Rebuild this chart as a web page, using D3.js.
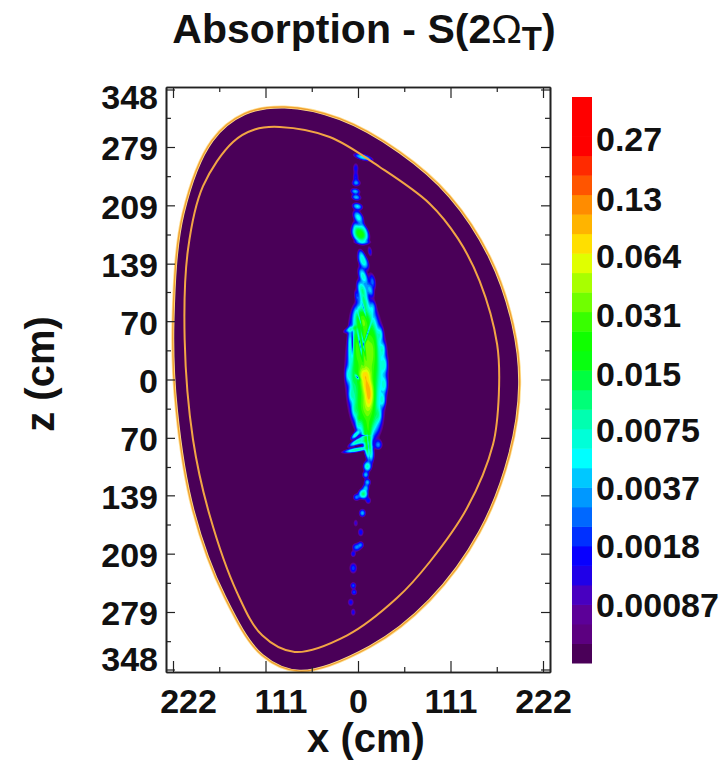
<!DOCTYPE html>
<html>
<head>
<meta charset="utf-8">
<script src="https://cdn.jsdelivr.net/npm/d3@7"></script>
<style>
  html, body { margin: 0; padding: 0; background: #fff; }
  svg { display: block; }
  text { font-family: "Liberation Sans", Arial, sans-serif; font-weight: bold; fill: #111; }
</style>
</head>
<body>
<svg id="graph" width="728" height="764"></svg>
<script>
var w = 728;
var h = 764;

var xTicks = [-222, -111, 0, 111, 222];
var xMinorTicks = [-166.5, -55.5, 55.5, 166.5];
var zTicks = [-348, -279, -209, -139, -70, 0, 70, 139, 209, 279, 348];
var zMinorTicks = [-314, -244, -174, -105, -35, 35, 105, 174, 244, 314];
var barLabels = [0.27, 0.13, 0.064, 0.031, 0.015, 0.0075, 0.0037, 0.0018, 0.00087];

// colour bands, bottom of the bar to the top
var bandColors = ["#4a0058", "#5c0080", "#5c0098", "#4800c0", "#2000e8", "#0800ff", "#0030ff", "#0068ff",
                  "#0098ff", "#00c8ff", "#00ffff", "#00ffd8", "#00ffb0", "#00ff78", "#00ff40", "#08ff10",
                  "#10ff00", "#38ff00", "#70ff00", "#a8ff00", "#e0ff00", "#ffdf00", "#ffb400", "#ff8c00",
                  "#ff5500", "#ff2a00", "#ff0000", "#ff0000", "#ff0000"];

// plasma edge, [x, z] in cm
var outerEdge = [[-88,327],[-22,313],[50,273],[110,220],[158,147],[186,66],[194,-6],[182,-90],[146,-183],[86,-265],
                 [14,-321],[-70,-350],[-115,-331],[-160,-261],[-198,-157],[-218,-36],[-222,72],[-210,199],[-175,287],[-136,319]];
var innerEdge = [[-94,303],[-34,291],[26,255],[86,211],[120,169],[146,118],[167,42],[169,-18],[162,-78],[131,-154],
                 [86,-219],[47,-262],[-13,-307],[-76,-327],[-115,-307],[-145,-256],[-178,-163],[-198,-72],[-208,48],
                 [-204,156],[-186,232],[-150,285],[-124,300]];

// absorption spots: [x, z, width, height, tilt deg, peak]
var upperSpots = [[6,267,6,1.8,15,0.006],[-3,254,2.2,4,0,0.0016],[-3,243,2.2,4,0,0.0018],[-2.4,236,3,2.2,0,0.003],
                  [-3.6,226,3.2,2,10,0.004],[-2.4,219,3.2,2,10,0.004],[-1,208,3.4,2.2,15,0.005],
                  [0,195,2.8,4.6,-30,0.006],[-3,183,1.8,4,-20,0.002],[6,183,1.8,5,-25,0.002],[2.4,175,4,5.5,-30,0.024],
                  [5,165,6,1.2,0,0.002],[4,150,2,4,-20,0.003],[14,154,1.8,4,-10,0.0016],[6,142,2.8,5.5,-25,0.007],
                  [6,124,2.6,6,-20,0.007],[17,118,2.4,6,-10,0.0026],[5,108,2.8,6,-20,0.009],[14,108,2.2,5,-20,0.004],
                  [7,94,2.8,7,-15,0.009],[-2,100,1.6,5,-10,0.0018],[17,86,2.2,5,0,0.003]];
var coreSpots = [[5,72,5,8,-10,0.022],[-5,62,6,1.7,-20,0.008],[-10,40,1.4,14,0,0.004],[-2,40,2.5,15,0,0.012],
                 [8,45,7,20,0,0.025],[18,38,3,16,0,0.012],[26,54,2,5,0,0.005],[29,36,2,5,0,0.005],[31,18,2,6,0,0.005],
                 [31,-6,2,6,0,0.005],[29,-24,2,5,0,0.005],[24,-42,2,5,0,0.005],[-12,6,2,6,0,0.004],[-8,-18,2,5,0,0.004],
                 [-4,-36,2,5,0,0.004],[0,-54,1.6,4,0,0.004],[10,10,9.5,26,0,0.03],[-6,5,2.2,12,0,0.006],
                 [11,-8,3.8,9,-10,0.06],[13,-22,3,8,0,0.045],[8,6,4,5,0,0.035],[10,-36,7,14,-8,0.03],[11,-62,3,9,0,0.02],
                 [1,-46,1.8,2.8,0,0.006]];
var lowerSpots = [[-3,-66,1.5,4,45,0.007],[-1,-74,1.5,6,60,0.009],[-2,-84,1.3,8,80,0.01],[6,-74,1.3,5,70,0.006],
                  [12,-80,2.2,8,-5,0.018],[24,-78,2.8,3.4,0,0.003],[16,-90,2,6,0,0.003],[11,-104,2.5,3.2,0,0.008],
                  [9,-114,2.2,2.4,0,0.004],[11,-123,2.2,2.4,0,0.004],[9,-130,2.2,2.6,0,0.004],[6,-137,2.8,3,0,0.011],
                  [-2,-141,2.4,2.4,0,0.003],[12,-145,2.2,2.6,0,0.0018],[5,-160,2.2,2.6,0,0.004],[-3,-172,2,3.2,0,0.0012],
                  [3,-183,2.2,3.2,0,0.0018],[-2,-201,3,2.8,0,0.003],[3,-198,2.2,2.4,0,0.0026],[-6,-209,2,2.4,0,0.0018],
                  [-6,-226,2.8,4,0,0.0022],[-6,-247,2.2,2.4,0,0.0024],[-5,-255,2.2,2.2,0,0.0022],[-9,-267,2.4,3,0,0.0016],
                  [-6,-279,2,3,0,0.0015]];
// dark gaps between the fringes: [x, z, width, height, tilt deg, depth]
var gaps = [[-7,44,1,12,0,0.9],[2,43,1.2,15,-10,0.98],[6,44,1,12,-10,0.98],[11,55,1,12,18,0.97],[-1,3,1.3,3,-40,0.98],
            [12,-78,0.7,12,-6,0.97],[8,-67,4,0.7,0,0.9],[2,72,0.8,8,-15,0.85],[7,84,0.7,8,-15,0.8]];

var xScale = d3.scaleLinear().domain([-230.4, 230.4]).range([166, 550]);
var zScale = d3.scaleLinear().domain([-351, 351]).range([672, 87]);

var barTop = 97;
var barBottom = 663;
var barStep = (barBottom - barTop) / bandColors.length;
var barScale = d3.scaleLog().domain([0.00087, 0.27]).range([606, 140]);

var svg = d3.select("#graph");

// --- plasma body
var edgeLine = d3.line()
    .x(function(p) { return xScale(p[0]); })
    .y(function(p) { return zScale(p[1]); })
    .curve(d3.curveCatmullRomClosed.alpha(0.5));

svg.append("path").attr("d", edgeLine(outerEdge))
    .attr("fill", bandColors[0]).attr("stroke", "#ffdf90").attr("stroke-width", 3);
svg.append("path").attr("d", edgeLine(outerEdge))
    .attr("fill", "none").attr("stroke", "#f0a030").attr("stroke-width", 1.4);

// --- absorption field on a fine grid, then filled contours per colour band
var cell = 0.6;
var x0 = -45;
var z0 = 285;
var nx = 150;
var nz = 1000;
var spots = upperSpots.concat(coreSpots, lowerSpots);

function splat(p, fn) {
    var t = p[4] * Math.PI / 180;
    var c = Math.cos(t), s = Math.sin(t);
    var reach = Math.max(p[2], p[3]) * 4;
    var i0 = Math.max(0, Math.floor((p[0] - reach - x0) / cell));
    var i1 = Math.min(nx - 1, Math.ceil((p[0] + reach - x0) / cell));
    var j0 = Math.max(0, Math.floor((z0 - p[1] - reach) / cell));
    var j1 = Math.min(nz - 1, Math.ceil((z0 - p[1] + reach) / cell));
    for (var j = j0; j <= j1; j++) {
        for (var i = i0; i <= i1; i++) {
            var dx = x0 + i * cell - p[0];
            var dz = z0 - j * cell - p[1];
            var u = (dx * c - dz * s) / p[2];
            var v = (dx * s + dz * c) / p[3];
            fn(i + j * nx, Math.exp(-(u * u + v * v) / 2));
        }
    }
}

var field = new Float64Array(nx * nz);
spots.forEach(function(p) {
    splat(p, function(k, g) { field[k] += p[5] * g; });
});
gaps.forEach(function(p) {
    splat(p, function(k, g) { field[k] *= 1 - p[5] * g; });
});

var levels = d3.range(1, bandColors.length).map(function(k) {
    return barScale.invert(barBottom - k * barStep);
});

var contours = d3.contours().size([nx, nz]).thresholds(levels)(Array.from(field));
var gridPath = d3.geoPath(d3.geoTransform({
    point: function(i, j) {
        this.stream.point(xScale(x0 + i * cell), zScale(z0 - j * cell));
    }
}));

svg.append("g").selectAll("path")
    .data(contours)
    .enter()
    .append("path")
    .attr("d", gridPath)
    .attr("fill", function(d, i) { return bandColors[i + 1]; });

// inner flux surface goes over the field
svg.append("path").attr("d", edgeLine(innerEdge))
    .attr("fill", "none").attr("stroke", "#f2a545").attr("stroke-width", 2);

// --- frame and axes
function noLabel() { return ""; }

function styleAxis(g) {
    g.select(".domain").attr("stroke", "#222").attr("stroke-width", 1.6);
    g.selectAll(".tick line").attr("stroke", "#222").attr("stroke-width", 1.2);
}

function addAxis(maker, scale, values, size, translate, fmt) {
    var g = svg.append("g")
        .attr("transform", translate)
        .call(maker(scale).tickValues(values).tickSize(size).tickSizeOuter(0).tickFormat(fmt || noLabel));
    styleAxis(g);
    return g;
}

var bottom = "translate(0,672)", top_ = "translate(0,87)", left = "translate(166,0)", right = "translate(550,0)";

[[xTicks, -11], [xMinorTicks, -5]].forEach(function(t) {
    addAxis(d3.axisBottom, xScale, t[0], t[1], bottom);
    addAxis(d3.axisTop, xScale, t[0], t[1], top_);
});
[[zTicks, -9], [zMinorTicks, -5]].forEach(function(t) {
    addAxis(d3.axisLeft, zScale, t[0], t[1], left);
    addAxis(d3.axisRight, zScale, t[0], t[1], right);
});

// tick labels (the picture drops the minus sign but leaves the text pushed right)
var xLabelAxis = svg.append("g").attr("transform", bottom)
    .call(d3.axisBottom(xScale).tickValues(xTicks).tickSize(0).tickPadding(17).tickFormat(Math.abs));
xLabelAxis.select(".domain").remove();
xLabelAxis.selectAll("text")
    .style("font-size", "34px")
    .attr("dx", function(d) { return d < 0 ? 15 : 0; });

var zLabelAxis = svg.append("g").attr("transform", left)
    .call(d3.axisLeft(zScale).tickValues(zTicks).tickSize(0).tickPadding(8).tickFormat(Math.abs));
zLabelAxis.select(".domain").remove();
zLabelAxis.selectAll("text")
    .style("font-size", "34px")
    .attr("dy", function(d) { return d == 348 ? "0.55em" : d == -348 ? "0.03em" : "0.38em"; });

svg.append("text").attr("x", 366).attr("y", 752).attr("text-anchor", "middle")
    .style("font-size", "40px").text("x (cm)");
svg.append("text").attr("transform", "translate(54,374) rotate(-90)").attr("text-anchor", "middle")
    .style("font-size", "40px").text("z (cm)");

// title
var title = svg.append("text").attr("x", 364).attr("y", 43).attr("text-anchor", "middle").style("font-size", "41px");
title.append("tspan").text("Absorption - S(2");
title.append("tspan").style("font-weight", "normal").text("Ω");
title.append("tspan").attr("dy", 7).style("font-size", "33px").text("T");
title.append("tspan").attr("dy", -7).text(")");

// --- colour bar
svg.append("g").selectAll("rect")
    .data(bandColors)
    .enter()
    .append("rect")
    .attr("x", 572)
    .attr("width", 20)
    .attr("y", function(d, i) { return barBottom - (i + 1) * barStep; })
    .attr("height", barStep + 0.5)
    .attr("fill", function(d) { return d; });

var barAxis = svg.append("g").attr("transform", "translate(592,0)")
    .call(d3.axisRight(barScale).tickValues(barLabels).tickSize(0).tickPadding(4).tickFormat(function(d) { return String(d); }));
barAxis.select(".domain").remove();
barAxis.selectAll("text").style("font-size", "34px");
</script>
</body>
</html>
